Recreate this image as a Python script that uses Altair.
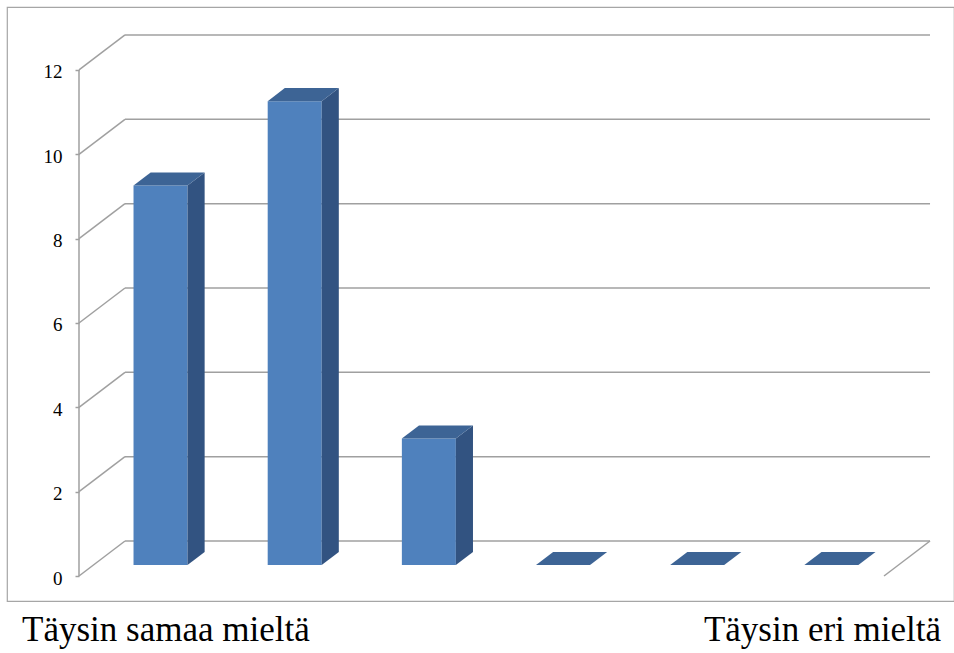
import altair as alt
import pandas as pd

# ---- data ----
categories = ["1", "2", "3", "4", "5", "6"]
values = [9, 11, 3, 0, 0, 0]
end_labels = ["Täysin samaa mieltä", "", "", "", "", "Täysin eri mieltä"]
y_ticks = [0, 2, 4, 6, 8, 10, 12]

# ---- 3-D projection / styling constants ----
DX = 0.3429          # wall depth, in category units
DY = 0.830           # wall depth, in value units
BW = 0.4025          # bar width, in category units
D0, D1 = 0.314, 0.686  # bar depth span as fraction of the wall depth
N = len(categories)
YMAX = max(y_ticks)

X_DOM = [-0.5366, 6.5216]
Y_DOM = [-0.5928, 13.493]

GRID = "#A0A0A0"
FRONT = "#4F81BD"
SIDE = "#325381"
TOP = "#3D6495"
SERIF = "Liberation Serif"

bars = pd.DataFrame({"idx": list(range(N)), "cat": categories,
                     "value": values, "label": end_labels})
faces = pd.DataFrame([{"idx": i, "value": v, "depth": d}
                      for i, v in enumerate(values) for d in (D0, D1)])
grid = pd.DataFrame({"tick": y_ticks})

xs = alt.Scale(domain=X_DOM, nice=False, zero=False)
ys = alt.Scale(domain=Y_DOM, nice=False, zero=False)
yaxis = alt.Axis(values=y_ticks, domain=False, grid=False, ticks=True,
                 tickSize=4, tickColor=GRID, tickWidth=1.5,
                 labelFont=SERIF, labelFontSize=19, labelColor="black",
                 labelPadding=13, labelOffset=2, offset=-72, title=None)


def X(f):
    return alt.X(f, type="quantitative", scale=xs, axis=None)


def Y(f):
    return alt.Y(f, type="quantitative", scale=ys, axis=yaxis)


# back wall gridlines
back = alt.Chart(grid).transform_calculate(
    gx0=f"{DX}", gx1=f"{N}+{DX}", gy=f"datum.tick+{DY}"
).mark_rule(color=GRID, strokeWidth=1.5).encode(
    x=X("gx0"), x2="gx1:Q", y=Y("gy"))

# left wall diagonals
side_wall = alt.Chart(grid).transform_calculate(
    gx0="0", gx1=f"{DX}", gy0="datum.tick", gy1=f"datum.tick+{DY}"
).mark_rule(color=GRID, strokeWidth=1.5).encode(
    x=X("gx0"), x2="gx1:Q", y=Y("gy0"), y2="gy1:Q")

# floor right edge
floor_edge = alt.Chart(grid).transform_filter("datum.tick == 0").transform_calculate(
    gx0=f"{N}", gx1=f"{N}+{DX}", gy0="0", gy1=f"{DY}"
).mark_rule(color=GRID, strokeWidth=1.5).encode(
    x=X("gx0"), x2="gx1:Q", y=Y("gy0"), y2="gy1:Q")

# front vertical axis line
front_axis = alt.Chart(grid).transform_aggregate(
    lo="min(tick)", hi="max(tick)"
).transform_calculate(gx="0").mark_rule(color=GRID, strokeWidth=1.5).encode(
    x=X("gx"), y=Y("lo"), y2="hi:Q")

# bar front faces
front = alt.Chart(bars).transform_calculate(
    bx0=f"datum.idx+0.5-{BW}/2+{D0}*{DX}",
    bx1=f"datum.idx+0.5+{BW}/2+{D0}*{DX}",
    by0=f"{D0}*{DY}",
    by1=f"datum.value+{D0}*{DY}",
).mark_rect(color=FRONT).encode(
    x=X("bx0"), x2="bx1:Q", y=Y("by0"), y2="by1:Q")

# bar side faces
side = alt.Chart(faces).transform_calculate(
    sx=f"datum.idx+0.5+{BW}/2+datum.depth*{DX}",
    sy0=f"datum.depth*{DY}",
    sy1=f"datum.value+datum.depth*{DY}",
).mark_area(color=SIDE, orient="vertical").encode(
    x=X("sx"), y=Y("sy1"), y2="sy0:Q", detail="idx:N")

# bar top faces
top = alt.Chart(faces).transform_calculate(
    tx0=f"datum.idx+0.5-{BW}/2+datum.depth*{DX}",
    tx1=f"datum.idx+0.5+{BW}/2+datum.depth*{DX}",
    ty=f"datum.value+datum.depth*{DY}",
).mark_area(color=TOP, orient="horizontal").encode(
    y=Y("ty"), x=X("tx0"), x2="tx1:Q", detail="idx:N")

# end labels under the category axis
lab_first = alt.Chart(bars).transform_filter("datum.idx == 0").transform_calculate(
    lx="datum.idx"
).mark_text(align="left", baseline="alphabetic", dx=-57, font=SERIF,
            fontSize=35, color="black").encode(
    x=X("lx"), y=alt.value(634), text="label:N")

lab_last = alt.Chart(bars).transform_filter(f"datum.idx == {N - 1}").transform_calculate(
    lx="datum.idx+1"
).mark_text(align="right", baseline="alphabetic", dx=57, font=SERIF,
            fontSize=35, color="black").encode(
    x=X("lx"), y=alt.value(634), text="label:N")

chart = alt.layer(
    back, side_wall, floor_edge, front_axis, front, side, top, lab_first, lab_last
).properties(
    width=947, height=594,
    autosize=alt.AutoSizeParams(type="none"),
    padding={"left": 7, "top": 7, "right": 0, "bottom": 52},
    background="white",
).configure_view(stroke="#A6A6A6", strokeWidth=1.2)

chart.save("out.html", embed_options={"renderer": "svg", "actions": False})
